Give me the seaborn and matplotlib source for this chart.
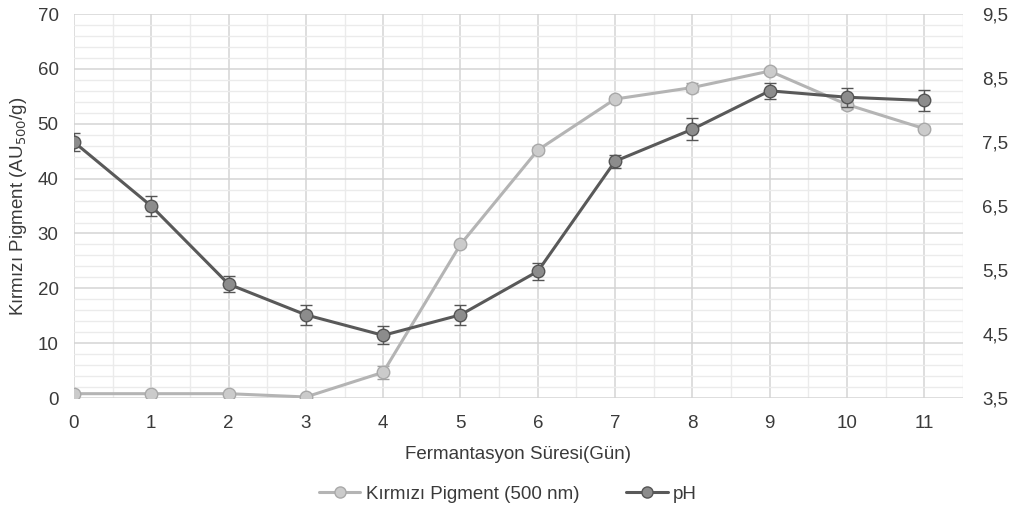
import matplotlib
matplotlib.use("Agg")
import matplotlib.pyplot as plt
from matplotlib.ticker import MultipleLocator, FixedLocator
from matplotlib.lines import Line2D
import seaborn as sns
import pandas as pd

days = [0, 1, 2, 3, 4, 5, 6, 7, 8, 9, 10, 11]
pigment = [0.8, 0.8, 0.8, 0.2, 4.7, 28.0, 45.2, 54.5, 56.6, 59.6, 53.5, 49.1]
pigment_err = [0.3, 0.3, 0.3, 0.3, 1.2, 0.5, 0.5, 0.6, 0.8, 0.5, 0.8, 0.5]
ph = [7.5, 6.5, 5.28, 4.8, 4.48, 4.8, 5.48, 7.2, 7.7, 8.3, 8.2, 8.15]
ph_err = [0.14, 0.16, 0.13, 0.16, 0.14, 0.16, 0.13, 0.1, 0.17, 0.12, 0.15, 0.16]
left_ticks = [0, 10, 20, 30, 40, 50, 60, 70]
right_ticks = [3.5, 4.5, 5.5, 6.5, 7.5, 8.5, 9.5]
right_labels = ["3,5", "4,5", "5,5", "6,5", "7,5", "8,5", "9,5"]

sns.set_theme(style="white")
plt.rcParams['font.family'] = ['Liberation Sans', 'DejaVu Sans']

PIG_LINE = "#b4b4b4"
PIG_FACE = "#cbcbcb"
PH_LINE = "#595959"
PH_FACE = "#8c8c8c"
TXT = "#3a3a3a"

df = pd.DataFrame({"day": days, "pigment": pigment, "ph": ph})

fig = plt.figure(figsize=(10.16, 5.19), dpi=100)
ax = fig.add_axes([0.0728, 0.233, 0.875, 0.740])
ax2 = ax.twinx()

sns.lineplot(data=df, x="day", y="pigment", ax=ax, color=PIG_LINE, lw=2.2,
             marker="o", markersize=9, markerfacecolor=PIG_FACE,
             markeredgecolor="#a9a9a9", markeredgewidth=1.0, zorder=3)
ax.errorbar(days, pigment, yerr=pigment_err, fmt="none", ecolor="#a0a0a0",
            elinewidth=1.0, capsize=4, capthick=1.0, zorder=2)

sns.lineplot(data=df, x="day", y="ph", ax=ax2, color=PH_LINE, lw=2.2,
             marker="o", markersize=9, markerfacecolor=PH_FACE,
             markeredgecolor="#555555", markeredgewidth=1.0, zorder=3)
ax2.errorbar(days, ph, yerr=ph_err, fmt="none", ecolor="#555555",
             elinewidth=1.0, capsize=4, capthick=1.0, zorder=2)

ax.set_xlim(0, 11.5)
ax.set_ylim(0, 70)
ax2.set_ylim(3.5, 9.5)

ax.xaxis.set_major_locator(FixedLocator(days))
ax.xaxis.set_minor_locator(MultipleLocator(0.5))
ax.yaxis.set_major_locator(FixedLocator(left_ticks))
ax.yaxis.set_minor_locator(MultipleLocator(2))
ax.grid(which="major", color="#d4d4d4", lw=1.1)
ax.grid(which="minor", color="#ebebeb", lw=1.0)
ax.set_axisbelow(True)

ax2.set_yticks(right_ticks)
ax2.set_yticklabels(right_labels)
ax2.grid(False)

for a in (ax, ax2):
    for s in a.spines.values():
        s.set_visible(False)
    a.tick_params(axis="both", which="both", length=0, labelsize=13.5,
                  labelcolor=TXT)
ax.tick_params(axis="y", pad=11)
ax2.tick_params(axis="y", pad=14)
ax.tick_params(axis="x", pad=12)

ax.set_xlabel("Fermantasyon Süresi(Gün)", fontsize=13.5, color=TXT, labelpad=10)
ax.set_ylabel("Kırmızı Pigment (AU$_{500}$/g)", fontsize=13.5, color=TXT, labelpad=6)
ax2.set_ylabel("")

h1 = Line2D([], [], color=PIG_LINE, lw=2.2, marker="o", markersize=8,
            markerfacecolor=PIG_FACE, markeredgecolor="#a9a9a9")
h2 = Line2D([], [], color=PH_LINE, lw=2.2, marker="o", markersize=8,
            markerfacecolor=PH_FACE, markeredgecolor="#555555")
fig.legend([h1, h2], ["Kırmızı Pigment (500 nm)", "pH"], loc="center",
           bbox_to_anchor=(0.5, 0.048), ncol=2, frameon=False, fontsize=13.5,
           handlelength=2.2, columnspacing=2.5, handletextpad=0.3,
           labelcolor=TXT)

fig.savefig("out.png", dpi=100, facecolor="white")
